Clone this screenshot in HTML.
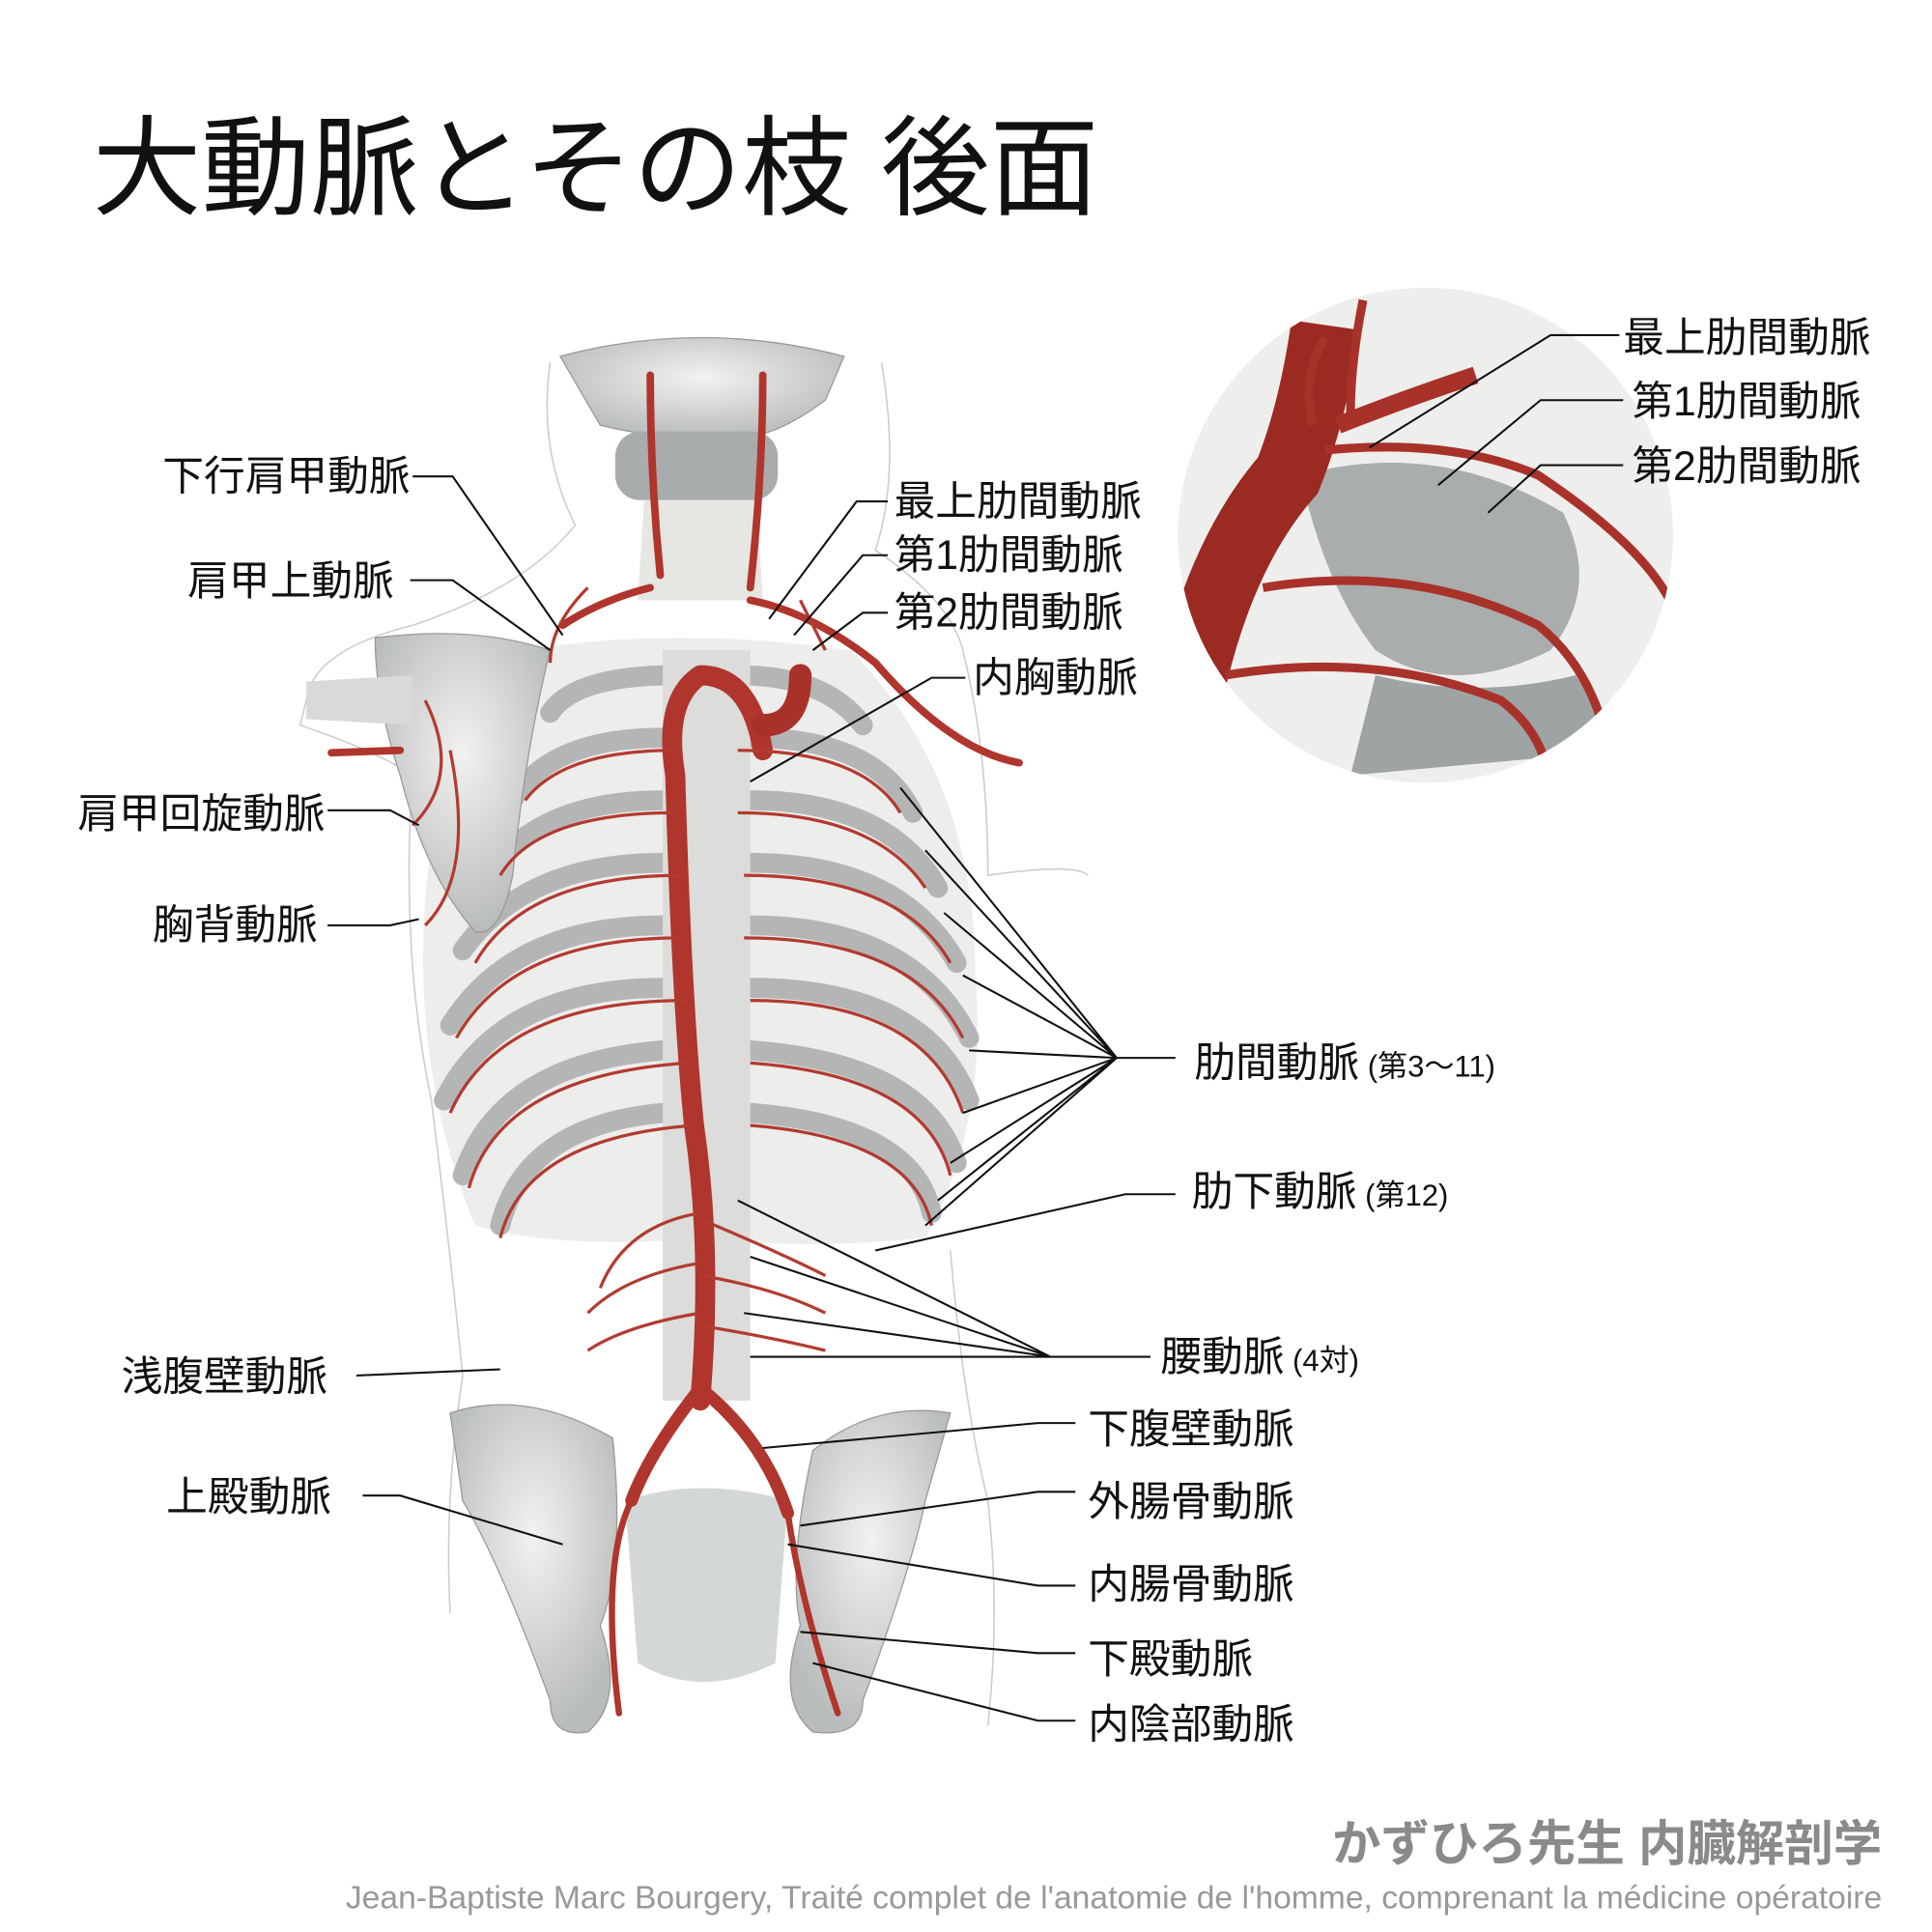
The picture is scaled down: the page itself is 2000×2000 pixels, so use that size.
<!DOCTYPE html>
<html><head><meta charset="utf-8"><style>
html,body{margin:0;padding:0;background:#fff;width:2000px;height:2000px;overflow:hidden}
svg{display:block}
text{font-family:"Liberation Sans","Noto Sans CJK JP",sans-serif;fill:#111}
</style></head><body>
<svg width="2000" height="2000" viewBox="0 0 1545 1545" xmlns="http://www.w3.org/2000/svg">
<defs>
<clipPath id="c"><circle cx="1140" cy="428" r="198"/></clipPath>
<radialGradient id="bone" cx="50%" cy="40%" r="60%"><stop offset="0" stop-color="#f2f2f0"/><stop offset="1" stop-color="#b9bcbc"/></radialGradient>
</defs>
<text x="74" y="165" font-size="87">大動脈とその枝 後面</text>

<!-- body outline -->
<path d="M440 290 Q430 360 460 420 Q420 470 330 500 Q250 520 245 560 L240 580 Q300 600 330 620 Q320 760 345 880 Q360 1000 370 1100 Q355 1200 360 1290" fill="none" stroke="#ccc" stroke-width="1.2"/>
<path d="M705 290 Q720 380 700 440 Q760 480 770 520 Q790 600 790 700 Q860 690 870 700" fill="none" stroke="#ccc" stroke-width="1.2"/>
<path d="M760 1000 Q770 1120 790 1200 Q800 1290 790 1380" fill="none" stroke="#ccc" stroke-width="1.2"/>
<!-- skull base -->
<path d="M448 285 Q560 255 675 285 L660 320 Q620 350 590 350 L560 350 Q520 350 480 340 Z" fill="url(#bone)" stroke="#999"/>
<rect x="492" y="345" width="130" height="55" rx="20" fill="#a9acac"/>
<path d="M515 400 L605 400 L610 480 L510 480Z" fill="#e6e6e3"/>
<!-- ribcage -->
<path d="M420 520 Q540 500 680 520 Q780 620 780 780 Q790 900 740 990 Q640 1000 560 990 Q450 1000 380 980 Q330 860 340 720 Q350 590 420 520Z" fill="#ededeb"/>
<g fill="none" stroke="#b4b6b6" stroke-width="16" stroke-linecap="round">
<path d="M540 540 Q460 540 440 570"/><path d="M590 540 Q660 540 690 580"/>
<path d="M530 590 Q440 590 410 640"/><path d="M600 590 Q700 590 730 650"/>
<path d="M530 640 Q430 640 390 700"/><path d="M600 640 Q710 640 750 710"/>
<path d="M530 690 Q420 690 370 760"/><path d="M600 690 Q720 690 765 770"/>
<path d="M530 740 Q410 740 360 820"/><path d="M600 740 Q730 740 775 830"/>
<path d="M530 790 Q400 790 355 880"/><path d="M600 790 Q740 790 775 880"/>
<path d="M530 840 Q400 850 370 940"/><path d="M600 840 Q740 850 765 930"/>
<path d="M530 890 Q420 900 400 980"/><path d="M600 890 Q730 900 745 970"/>
</g>
<!-- spine -->
<rect x="530" y="520" width="70" height="600" fill="#dcdcda"/>
<!-- scapula -->
<path d="M300 510 Q380 500 440 520 Q420 600 410 700 Q400 750 380 745 Q340 700 320 620 Q300 560 300 510Z" fill="url(#bone)" stroke="#999"/>
<path d="M245 545 L330 540 L330 580 L245 575Z" fill="#d8d9d8"/>
<!-- pelvis -->
<path d="M360 1130 Q420 1110 490 1150 Q500 1250 480 1300 Q500 1360 470 1385 Q440 1390 440 1360 Q400 1250 370 1200Z" fill="url(#bone)" stroke="#999"/>
<path d="M760 1130 Q700 1120 650 1160 Q630 1250 640 1300 Q620 1360 650 1385 Q690 1390 690 1360 Q730 1250 740 1200Z" fill="url(#bone)" stroke="#999"/>
<path d="M500 1200 Q560 1180 630 1200 L620 1330 Q560 1360 510 1330Z" fill="#d3d7d7"/>
<!-- arteries -->
<g fill="none" stroke="#b0352c" stroke-linecap="round">
<path d="M560 540 Q600 540 610 600 M560 540 Q530 560 540 620 Q545 800 555 900 Q570 1000 560 1120" stroke-width="16"/>
<path d="M560 1110 Q520 1160 505 1200 M560 1110 Q610 1150 630 1210" stroke-width="10"/>
<path d="M505 1200 Q480 1250 495 1370 M630 1210 Q640 1280 670 1370" stroke-width="5"/>
<path d="M528 460 Q520 380 520 300 M600 470 Q610 380 610 300 M520 470 Q480 480 450 500 M600 480 Q650 490 700 530 Q760 600 815 610 M265 602 L320 600" stroke-width="6"/>
<path d="M610 580 Q640 580 640 540" stroke-width="18" stroke="#a8322a"/>
</g>
<g fill="none" stroke="#b33a30" stroke-width="2.5">
<path d="M540 600 Q450 600 420 640 M590 600 Q690 600 720 650"/>
<path d="M540 650 Q430 650 400 700 M590 650 Q700 650 740 710"/>
<path d="M545 700 Q420 700 380 770 M595 700 Q720 700 760 770"/>
<path d="M545 750 Q410 750 365 830 M595 750 Q730 750 770 830"/>
<path d="M550 800 Q400 800 360 890 M600 800 Q740 800 770 890"/>
<path d="M550 850 Q400 860 375 950 M600 850 Q740 860 760 940"/>
<path d="M555 900 Q420 910 400 990 M600 900 Q730 910 745 980"/>
<path d="M560 970 Q500 980 480 1030 M560 975 Q620 1000 660 1020"/>
<path d="M560 1010 Q500 1020 470 1050 M560 1020 Q620 1030 660 1050"/>
<path d="M560 1050 Q500 1060 470 1080 M560 1060 Q620 1070 660 1080"/>
<path d="M340 560 Q370 620 330 660 M360 600 Q380 700 340 740"/>
<path d="M470 470 Q440 500 440 530 M640 480 Q650 500 660 520"/>
</g>

<!-- inset -->
<circle cx="1140" cy="428" r="198" fill="#eeeeec"/>
<g clip-path="url(#c)">
<path d="M1040 380 Q1150 350 1250 410 Q1280 470 1240 520 Q1160 560 1100 520 Q1060 470 1040 380Z" fill="#a9adad"/>
<path d="M1100 540 Q1180 560 1260 540 L1300 600 L1080 620Z" fill="#9ea3a3"/>
<path d="M940 620 Q960 460 1030 380 Q1050 330 1060 260" fill="none" stroke="#9b2a22" stroke-width="55"/>
<path d="M1070 340 Q1120 320 1180 300" fill="none" stroke="#a8322a" stroke-width="14"/>
<g fill="none" stroke="#a8322a" stroke-width="7">
<path d="M1060 360 Q1160 350 1230 380 Q1320 440 1340 490"/>
<path d="M1010 470 Q1130 450 1230 500 Q1280 540 1290 620"/>
<path d="M980 540 Q1100 520 1200 560 Q1240 590 1240 640"/>
<path d="M1060 270 Q1040 300 1050 340 M1090 240 Q1080 290 1080 330"/>
</g>
</g>

<!-- leader lines -->
<g stroke="#111" stroke-width="1.6" fill="none">
<path d="M330 381 L362 381 L450 508"/>
<path d="M328 464 L362 464 L440 520"/>
<path d="M262 648 L312 648 L335 660"/>
<path d="M262 740 L312 740 L335 735"/>
<path d="M710 401 L685 401 L615 495"/>
<path d="M710 444 L690 444 L635 508"/>
<path d="M710 490 L690 490 L650 520"/>
<path d="M772 542 L745 542 L600 625"/>
<path d="M1295 268 L1240 268 L1095 358"/>
<path d="M1298 320 L1232 320 L1150 388"/>
<path d="M1298 372 L1232 372 L1190 410"/>
<path d="M940 846 L893 846"/>
<path d="M893 846 L720 630 M893 846 L740 680 M893 846 L755 730 M893 846 L770 780 M893 846 L775 840 M893 846 L770 890 M893 846 L760 930 M893 846 L750 960 M893 846 L740 980"/>
<path d="M940 955 L900 955 L700 1000"/>
<path d="M920 1085 L840 1085 M840 1085 L590 960 M840 1085 L600 1005 M840 1085 L595 1050 M840 1085 L600 1085"/>
<path d="M860 1138 L830 1138 L610 1158"/>
<path d="M860 1193 L830 1193 L640 1220"/>
<path d="M860 1268 L830 1268 L630 1235"/>
<path d="M860 1322 L830 1322 L640 1305"/>
<path d="M860 1376 L830 1376 L650 1330"/>
<path d="M285 1100 L400 1095"/>
<path d="M290 1196 L320 1196 L450 1235"/>
</g>

<g font-size="33">
<text x="130" y="392">下行肩甲動脈</text>
<text x="150" y="476">肩甲上動脈</text>
<text x="62" y="662">肩甲回旋動脈</text>
<text x="122" y="751">胸背動脈</text>
<text x="715" y="412">最上肋間動脈</text>
<text x="715" y="455">第1肋間動脈</text>
<text x="715" y="501">第2肋間動脈</text>
<text x="778" y="553">内胸動脈</text>
<text x="1298" y="281">最上肋間動脈</text>
<text x="1305" y="332">第1肋間動脈</text>
<text x="1305" y="384">第2肋間動脈</text>
<text x="955" y="861">肋間動脈<tspan font-size="24"> (第3〜11)</tspan></text>
<text x="953" y="964">肋下動脈<tspan font-size="24"> (第12)</tspan></text>
<text x="928" y="1096">腰動脈<tspan font-size="24"> (4対)</tspan></text>
<text x="870" y="1154">下腹壁動脈</text>
<text x="870" y="1212">外腸骨動脈</text>
<text x="870" y="1278">内腸骨動脈</text>
<text x="870" y="1338">下殿動脈</text>
<text x="870" y="1390">内陰部動脈</text>
<text x="97" y="1112">浅腹壁動脈</text>
<text x="133" y="1208">上殿動脈</text>
</g>
<text x="1505" y="1488" font-size="39" font-weight="bold" text-anchor="end" style="fill:#8a8a8a">かずひろ先生 内臓解剖学</text>
<text x="1505" y="1526" font-size="26" text-anchor="end" style="fill:#999">Jean-Baptiste Marc Bourgery, Traité complet de l'anatomie de l'homme, comprenant la médicine opératoire</text>
</svg>
</body></html>
